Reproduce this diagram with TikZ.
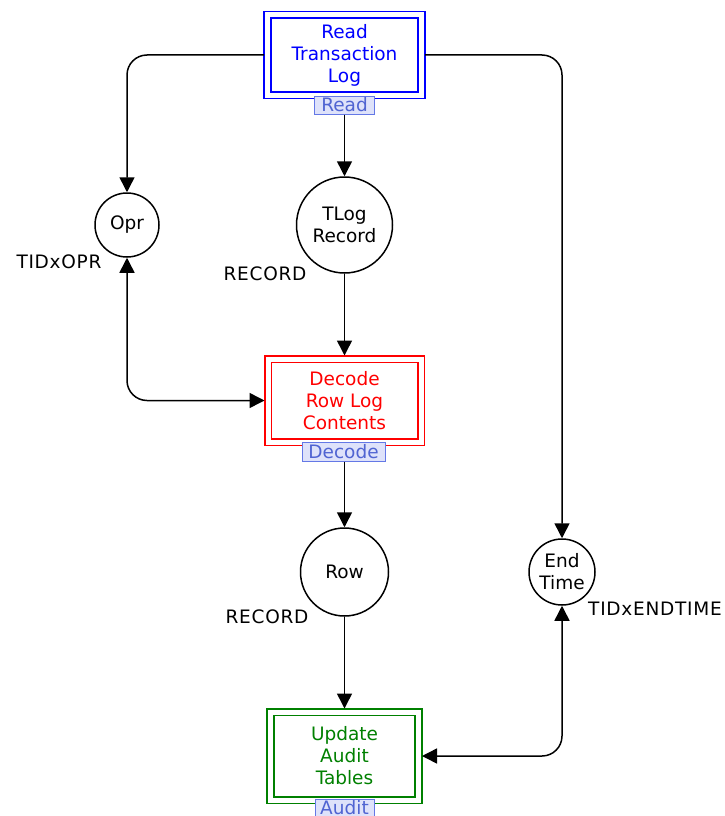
\documentclass[tikz,border=0pt]{standalone}
\usepackage{fontspec}
\setmainfont{DejaVu Sans}
\usetikzlibrary{arrows.meta}

\definecolor{transblue}{RGB}{0,0,255}
\definecolor{transred}{RGB}{255,0,0}
\definecolor{transgreen}{RGB}{0,128,0}
\definecolor{tagfill}{RGB}{222,226,250}
\definecolor{tagdraw}{RGB}{100,120,230}
\definecolor{tagtext}{RGB}{80,100,210}

\tikzset{
  txt/.style={font=\fontsize{18.5}{22}\selectfont},
  trans/.style={txt, draw, double=white, line width=1.7pt, double distance=5pt,
    outer sep=3.5pt, align=center, inner sep=0pt},
  place/.style={txt, circle, draw, line width=1.5pt, align=center, inner sep=0pt},
  tag/.style={txt, draw=tagdraw, fill=tagfill, text=tagtext, line width=1pt,
    inner sep=0pt, minimum height=18pt},
  colset/.style={font=\fontsize{18.5}{22}\selectfont\addfontfeature{LetterSpace=4}, inner sep=0pt},
  tip/.tip={Triangle[length=15pt,width=15pt]},
  arc/.style={line width=1.5pt, -tip},
  biarc/.style={line width=1.5pt, tip-tip},
}

\begin{document}
\begin{tikzpicture}[x=1pt,y=-1pt]
  \useasboundingbox (0,0) rectangle (725,816);

  % transitions
  \node[trans, draw=transblue, text=transblue, minimum width=154pt, minimum height=80pt]
    (read) at (344.5,55) {Read\\Transaction\\Log};
  \node[trans, draw=transred, text=transred, minimum width=153pt, minimum height=83pt]
    (decode) at (344.5,400.5) {Decode\\Row Log\\Contents};
  \node[trans, draw=transgreen, text=transgreen, minimum width=148pt, minimum height=88pt]
    (audit) at (344.5,756) {Update\\Audit\\Tables};

  % transition tags
  \node[tag, minimum width=60pt] (readtag) at (344.5,105) {Read};
  \node[tag, minimum width=83pt, minimum height=19pt] (decodetag) at (343.5,451.5) {Decode};
  \node[tag, minimum width=59pt] (audittag) at (344.5,808) {Audit};

  % places
  \node[place, minimum size=64pt] (opr) at (127,225) {Opr};
  \node[place, minimum size=96pt] (tlog) at (344.5,225) {TLog\\Record};
  \node[place, minimum size=88pt] (row) at (344.5,572) {Row};
  \node[place, minimum size=66pt] (endt) at (562,572) {End\\Time};

  % colour sets
  \node[colset] (oprset) at (59,262) {TIDxOPR};
  \node[colset] (tlogset) at (265,274) {RECORD};
  \node[colset] (rowset) at (267,617) {RECORD};
  \node[colset] (endtset) at (655,609) {TIDxENDTIME};

  % arcs
  \draw[arc, rounded corners=20pt] (read.west) -| (opr.north);
  \draw[arc, rounded corners=20pt] (read.east) -| (endt.north);
  \draw[arc] (tlog.north |- readtag.south) -- (tlog.north);
  \draw[arc] (tlog.south) -- (decode.north);
  \draw[biarc, rounded corners=20pt] (opr.south) |- (decode.west);
  \draw[arc] (row.north |- decodetag.south) -- (row.north);
  \draw[arc] (row.south) -- (audit.north);
  \draw[biarc, rounded corners=20pt] (endt.south) |- (audit.east);
\end{tikzpicture}
\end{document}
